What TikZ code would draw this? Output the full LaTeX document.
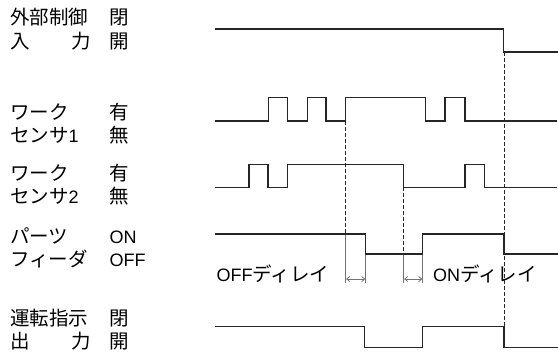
\documentclass[tikz,border=0pt]{standalone}
\usepackage{fontspec}
\newfontfamily\jp{Noto Sans CJK JP}
\newfontfamily\latfont{Liberation Sans}
\newcommand\lat[1]{{\latfont\fontsize{18bp}{20bp}\selectfont #1}}
\usetikzlibrary{arrows.meta}
\begin{document}
\begin{tikzpicture}[x=1bp,y=-1bp,
  sig/.style={line width=1.3bp, black!85},
  dsh/.style={line width=0.9bp, black!85, dash pattern=on 3.5bp off 2.5bp},
  markline/.style={line width=0.8bp, black!55},
  delay/.style={markline, {Straight Barb[length=3bp,width=5bp]}-{Straight Barb[length=3bp,width=5bp]}},
  lbl/.style={anchor=base west, inner sep=0pt, font=\jp\fontsize{19.5bp}{22bp}\selectfont, text=black}]
\useasboundingbox (0,0) rectangle (558,353);
% labels left
\node[lbl] (l1a) at (10,24.5) {外部制御};
\node[lbl] (l1b) at (10,48) {入};
\node[lbl] (l1c) at (71,48) {力};
\node[lbl] (l2a) at (10,119) {ワーク};
\node[lbl] (l2b) at (10,142.5) {センサ\lat{1}};
\node[lbl] (l3a) at (10,180) {ワーク};
\node[lbl] (l3b) at (10,203.5) {センサ\lat{2}};
\node[lbl] (l4a) at (10,243.5) {パーツ};
\node[lbl] (l4b) at (10,266.7) {フィーダ};
\node[lbl] (l5a) at (10,325) {運転指示};
\node[lbl] (l5b) at (10,348) {出};
\node[lbl] (l5c) at (71,348) {力};
% labels right column
\node[lbl] (r1a) at (109,24.5) {閉};
\node[lbl] (r1b) at (109,48) {開};
\node[lbl] (r2a) at (109,119) {有};
\node[lbl] (r2b) at (109,142.5) {無};
\node[lbl] (r3a) at (109,180) {有};
\node[lbl] (r3b) at (109,203.5) {無};
\node[lbl] (r4a) at (109.5,243.5) {\lat{ON}};
\node[lbl] (r4b) at (109.5,266.7) {\lat{OFF}};
\node[lbl] (r5a) at (109,325) {閉};
\node[lbl] (r5b) at (109,348) {開};
% delay labels
\node[lbl] (offd) at (216.5,281) {\lat{OFF}ディレイ};
\node[lbl] (ond) at (433,281) {\lat{ON}ディレイ};
% dashed timing lines
\draw[dsh] (345.7,121) -- (345.7,234);
\draw[dsh] (403.7,187.3) -- (403.7,254);
\draw[dsh] (504,52) -- (504,326.7);
% delay marks
\draw[markline] (345.7,234) -- (345.7,283);
\draw[markline] (365.7,254) -- (365.7,283);
\draw[markline] (403.7,254) -- (403.7,283);
\draw[markline] (422.7,234) -- (422.7,283);
\draw[delay] (346.1,279) -- (365.3,279);
\draw[delay] (404.1,279) -- (422.3,279);
% signals
\draw[sig] (215,29) -- (503.7,29) -- (503.7,52) -- (558,52);
\draw[sig] (215,121) -| (268.3,97.3) -| (287.3,121) -| (307.3,97.3) -| (326,121) -| (345.7,97.3) -| (425.7,121) -| (445,97.3) -| (465,121) -- (557,121);
\draw[sig] (215,187.3) -| (249,164.3) -| (268,187.3) -| (287.7,164.3) -| (403.7,187.3) -| (465,164.3) -| (484.3,187.3) -- (557,187.3);
\draw[sig] (215,234) -| (365.7,254) -| (422.7,234) -| (504,254) -- (558,254);
\draw[sig] (215,326.7) -| (364.3,347.3) -| (422.7,326.7) -| (504,347.3) -- (558,347.3);
\end{tikzpicture}
\end{document}
